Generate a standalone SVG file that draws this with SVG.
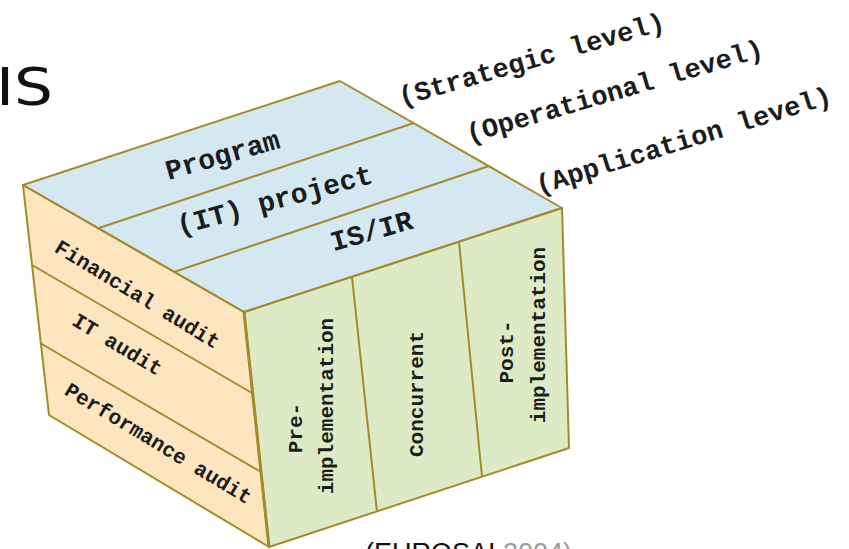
<svg xmlns="http://www.w3.org/2000/svg" width="849" height="549" viewBox="0 0 849 549">
  <style>
    .top { fill: #d4e8f1; }
    .side { fill: #fde5c0; }
    .front { fill: #dcebc6; }
    .edge { stroke: #a58a2c; stroke-width: 2; stroke-linejoin: round; fill: none; }
    .mono { font-family: "Liberation Mono", "Courier New", monospace; fill: #1c1c1c; text-anchor: middle; font-weight: bold; }
    .lbl { font-size: 27px; }
    .tp { font-size: 28px; }
    .sd { font-size: 21px; }
    .fr { font-size: 21px; }
    .sans { font-family: "DejaVu Sans", Verdana, sans-serif; fill: #111; }
  </style>

  <rect width="849" height="549" fill="#ffffff"/>

  <!-- heading fragment at the top left -->
  <text class="sans" x="-4" y="105" font-size="51" textLength="57" lengthAdjust="spacingAndGlyphs">IS</text>

  <!-- top face: organisational levels -->
  <g id="program">
    <polygon class="top" points="23,185 340,81 414,123 99,228"/>
    <text class="mono tp" transform="translate(223,157) rotate(-16)" y="7">Program</text>
  </g>
  <g id="it-project">
    <polygon class="top" points="99,228 414,123 489,166 174,272"/>
    <text class="mono tp" transform="translate(275,202) rotate(-15)" y="7">(IT) project</text>
  </g>
  <g id="is-ir">
    <polygon class="top" points="174,272 489,166 562,208 244,312"/>
    <text class="mono tp" transform="translate(372,233) rotate(-16)" y="7">IS/IR</text>
  </g>

  <!-- left face: audit types -->
  <g id="financial-audit">
    <polygon class="side" points="23,185 244,312 252,393 32,265"/>
    <text class="mono sd" transform="translate(137,295) rotate(31.4)" y="6">Financial audit</text>
  </g>
  <g id="it-audit">
    <polygon class="side" points="32,265 252,393 261,472 40,343"/>
    <text class="mono sd" transform="translate(117,345) rotate(31)" y="6">IT audit</text>
  </g>
  <g id="performance-audit">
    <polygon class="side" points="40,343 261,472 269,547 49,415"/>
    <text class="mono sd" transform="translate(158,444) rotate(31.2)" y="6">Performance audit</text>
  </g>

  <!-- front face: audit timing -->
  <g id="pre-implementation">
    <polygon class="front" points="244,312 352,277 377,512 269,547"/>
    <text class="mono fr" transform="translate(302,428) rotate(-90)">Pre-</text>
    <text class="mono fr" transform="translate(333,406) rotate(-90)">implementation</text>
  </g>
  <g id="concurrent">
    <polygon class="front" points="352,277 459,242 482,477 377,512"/>
    <text class="mono fr" transform="translate(423,394) rotate(-90)">Concurrent</text>
  </g>
  <g id="post-implementation">
    <polygon class="front" points="459,242 562,208 569,448 482,477"/>
    <text class="mono fr" transform="translate(513,352) rotate(-90)">Post-</text>
    <text class="mono fr" transform="translate(545,335) rotate(-90)">implementation</text>
  </g>

  <!-- cube edges and cell dividers -->
  <g id="edges" class="edge">
    <polygon points="23,185 340,81 562,208 244,312"/>
    <polygon points="23,185 244,312 269,547 49,415"/>
    <polygon points="244,312 562,208 569,448 269,547"/>
    <line x1="99" y1="228" x2="414" y2="123"/>
    <line x1="174" y1="272" x2="489" y2="166"/>
    <line x1="32" y1="265" x2="252" y2="393"/>
    <line x1="40" y1="343" x2="261" y2="472"/>
    <line x1="352" y1="277" x2="377" y2="512"/>
    <line x1="459" y1="242" x2="482" y2="477"/>
    <line x1="244" y1="312" x2="269" y2="547" stroke-width="3"/>
  </g>

  <!-- level annotations -->
  <g id="levels">
    <text class="mono lbl" transform="translate(532,61) rotate(-16.1)" y="7">(Strategic level)</text>
    <text class="mono lbl" transform="translate(615,93) rotate(-16.3)" y="7">(Operational level)</text>
    <text class="mono lbl" transform="translate(684,142) rotate(-17.2)" y="7">(Application level)</text>
  </g>

  <!-- source line -->
  <text x="365" y="562" font-family="Liberation Sans, Arial, sans-serif" font-size="27" fill="#111">(EUROSAI <tspan fill="#9a9a9a">2004)</tspan></text>
</svg>
